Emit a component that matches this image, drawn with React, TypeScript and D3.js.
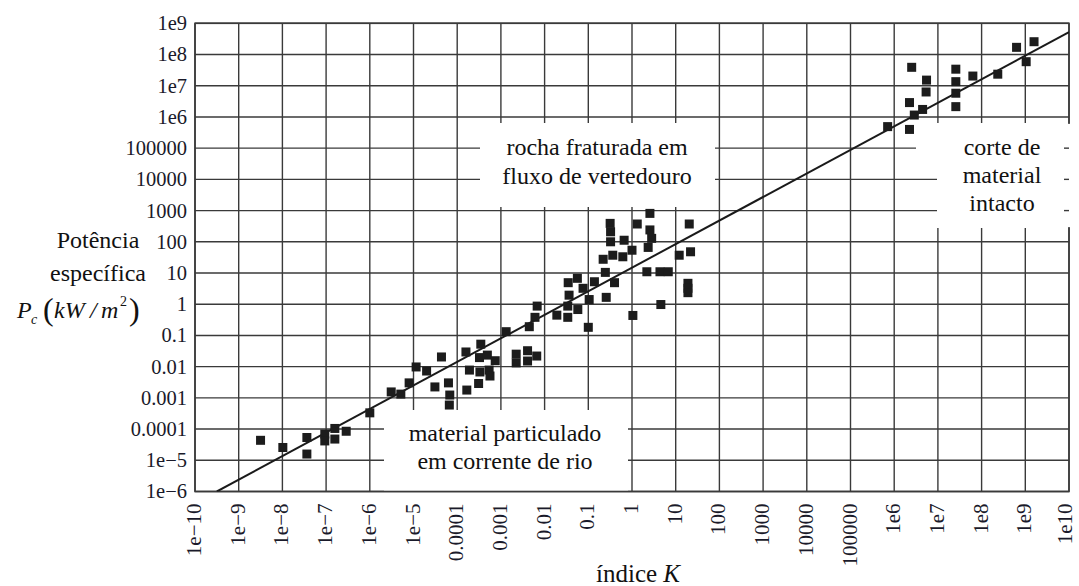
import React from "react";
import * as d3 from "d3";

// data, as log10 exponents of K and Pc
const particulateK = [-8.5, -7.99, -7.44, -7.44, -7.03, -7.03, -6.8, -6.8, -6.54, -6.0, -5.51, -5.29, -5.1, -4.94, -4.7, -4.51, -4.36, -4.2, -4.17, -4.18, -3.8, -3.72, -3.78, -3.46, -3.49, -3.31, -3.48, -3.27, -3.25, -3.51, -3.13, -2.88, -2.65, -2.65, -2.39, -2.39, -2.18, -2.35, -2.22, -2.17, -1.72, -1.47, -1.47, -1.24];
const particulateP = [-4.36, -4.59, -4.27, -4.8, -4.16, -4.38, -3.98, -4.32, -4.07, -3.48, -2.81, -2.88, -2.52, -2.01, -2.14, -2.65, -1.69, -2.52, -2.91, -3.23, -1.53, -2.11, -2.75, -1.28, -1.71, -1.63, -2.17, -2.11, -2.3, -2.54, -1.81, -0.88, -1.6, -1.88, -1.49, -1.82, -1.66, -0.72, -0.42, -0.06, -0.35, -0.42, -0.06, -0.17];
const rockK = [-1.44, -1.46, -1.25, -1.12, -1.0, -0.98, -0.86, -0.59, -0.61, -0.66, -0.44, -0.4, -0.5, -0.49, -0.49, -0.18, -0.21, 0.0, 0.12, 0.02, 0.34, 0.41, 0.41, 0.45, 0.37, 0.64, 0.83, 0.66, 1.08, 1.31, 1.34, 1.28, 1.28, 1.28];
const rockP = [0.29, 0.69, 0.83, 0.51, -0.74, 0.15, 0.72, 0.22, 1.02, 1.44, 1.57, 0.69, 2.59, 2.32, 2.0, 2.05, 1.52, 1.73, 2.57, -0.36, 1.04, 2.91, 2.38, 2.11, 1.82, 1.04, 1.04, -0.01, 1.57, 2.57, 1.68, 0.67, 0.51, 0.37];
const intactK = [5.85, 6.35, 6.35, 6.46, 6.65, 6.4, 6.74, 6.73, 7.41, 7.41, 7.41, 7.41, 7.8, 8.37, 8.8, 9.02, 9.2];
const intactP = [5.69, 5.6, 6.46, 6.06, 6.24, 7.59, 7.18, 6.8, 7.53, 7.13, 6.76, 6.33, 7.31, 7.37, 8.23, 7.77, 8.41];
const fitK = [-9.5, 10];
const fitP = [-6, 8.72];

const xTickExps = d3.range(-10, 11);
const yTickExps = d3.range(-6, 10);
const xTickLabels = ["1e\u221210", "1e\u22129", "1e\u22128", "1e\u22127", "1e\u22126", "1e\u22125", "0.0001", "0.001", "0.01", "0.1", "1", "10", "100", "1000", "10000", "100000", "1e6", "1e7", "1e8", "1e9", "1e10"];
const yTickLabels = ["1e\u22126", "1e\u22125", "0.0001", "0.001", "0.01", "0.1", "1", "10", "100", "1000", "10000", "100000", "1e6", "1e7", "1e8", "1e9"];

const W = 1079, H = 586;
const L = 195, R = 1069, T = 23.3, B = 491.5;
const FONT = '"Liberation Serif", "DejaVu Serif", serif';
const GRID = "#3a3a3a";

export default function App() {
  const x = d3.scaleLog().domain([1e-10, 1e10]).range([L, R]);
  const y = d3.scaleLog().domain([1e-6, 1e9]).range([B, T]);
  const px = (e: number) => x(Math.pow(10, e));
  const py = (e: number) => y(Math.pow(10, e));

  const pts: [number, number][] = [];
  particulateK.forEach((k, i) => pts.push([k, particulateP[i]]));
  rockK.forEach((k, i) => pts.push([k, rockP[i]]));
  intactK.forEach((k, i) => pts.push([k, intactP[i]]));

  const line = d3.line<[number, number]>().x(d => px(d[0])).y(d => py(d[1]));
  const fit: [number, number][] = fitK.map((k, i) => [k, fitP[i]]);

  const S = 9;
  return (
    <svg width={W} height={H} style={{ position: "absolute", left: 0, top: 0, background: "#fff", fontFamily: FONT }}>
      <defs>
        <clipPath id="plot"><rect x={L} y={T} width={R - L} height={B - T} /></clipPath>
      </defs>
      {xTickExps.map(e => (
        <line key={"gx" + e} x1={px(e)} x2={px(e)} y1={T} y2={B} stroke={GRID} strokeWidth={1.4} />
      ))}
      {yTickExps.map(e => (
        <line key={"gy" + e} x1={L} x2={R} y1={py(e)} y2={py(e)} stroke={GRID} strokeWidth={1.4} />
      ))}
      <rect x={480} y={123} width={235} height={84} fill="#fff" />
      <rect x={384} y={410} width={244} height={B - 410} fill="#fff" />
      <path d="M916,123 L1071,123 L1071,228 L937,228 L937,163 L916,163 Z" fill="#fff" />
      <rect x={L} y={T} width={R - L} height={B - T} fill="none" stroke={GRID} strokeWidth={1.6} />
      <rect x={1064} y={124} width={8} height={103} fill="#fff" />
      {[5, 4, 3].map(e => (
        <line key={"st" + e} x1={1064} x2={1069} y1={py(e)} y2={py(e)} stroke={GRID} strokeWidth={1.4} />
      ))}
      <path d={line(fit) || ""} fill="none" stroke="#1a1a1a" strokeWidth={2} clipPath="url(#plot)" />
      {pts.map((d, i) => (
        <rect key={"p" + i} x={px(d[0]) - S / 2} y={py(d[1]) - S / 2} width={S} height={S} fill="#1c1c1c" />
      ))}
      {yTickExps.map((e, i) => (
        <text key={"yl" + e} x={187} y={py(e)} dy="0.34em" textAnchor="end" fontSize={20.5} fill="#1a1a2a">
          {yTickLabels[i]}
        </text>
      ))}
      {xTickExps.map((e, i) => (
        <text key={"xl" + e} transform={`translate(${px(e) + (i === xTickExps.length - 1 ? 3 : 6)},${B + 12}) rotate(-90)`} textAnchor="end" fontSize={21} fill="#1a1a2a">
          {xTickLabels[i]}
        </text>
      ))}
      <text x={638} y={582} textAnchor="middle" fontSize={25} fill="#111">
        índice <tspan fontStyle="italic">K</tspan>
      </text>
      <text x={98} y={248} textAnchor="middle" fontSize={24} fill="#111">Potência</text>
      <text x={98} y={281} textAnchor="middle" fontSize={24} fill="#111">específica</text>
      <g fill="#111">
        <text x={17} y={318} fontSize={24} fontStyle="italic">P</text>
        <text x={31} y={324} fontSize={14} fontStyle="italic">c</text>
        <text x={43} y={320} fontSize={32}>(</text>
        <text x={54} y={318} fontSize={24} fontStyle="italic">kW</text>
        <text x={90} y={318} fontSize={24} fontStyle="italic">/</text>
        <text x={101} y={318} fontSize={24} fontStyle="italic">m</text>
        <text x={120} y={306} fontSize={14}>2</text>
        <text x={129} y={320} fontSize={32}>)</text>
      </g>
      <g fontSize={24} fill="#111" textAnchor="middle">
        <text x={597} y={155}>rocha fraturada em</text>
        <text x={597} y={184}>fluxo de vertedouro</text>
        <text x={505} y={441}>material particulado</text>
        <text x={505} y={469}>em corrente de rio</text>
        <text x={1002} y={155}>corte de</text>
        <text x={1002} y={183}>material</text>
        <text x={1002} y={211}>intacto</text>
      </g>
    </svg>
  );
}
